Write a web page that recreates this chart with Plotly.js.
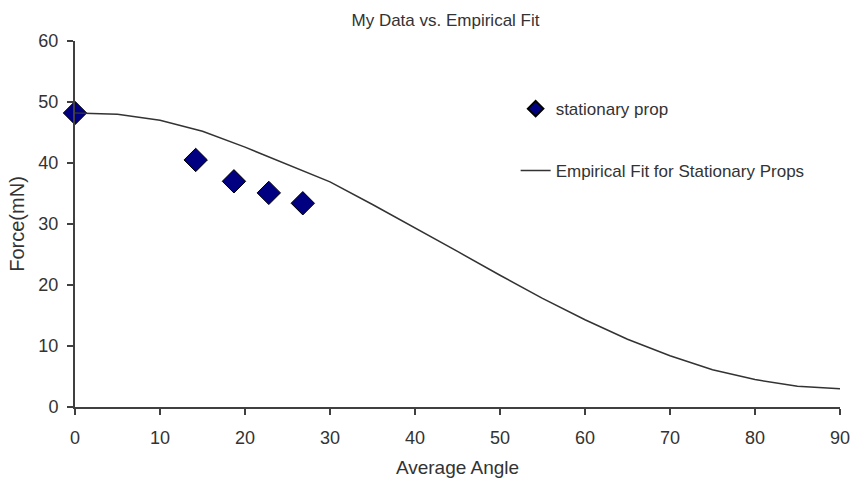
<!DOCTYPE html>
<html>
<head>
<meta charset="utf-8">
<script src="https://cdn.plot.ly/plotly-3.0.1.min.js"></script>
<style>html,body{margin:0;padding:0;background:#fff;}#chart{width:851px;height:486px;}</style>
</head>
<body>
<div id="chart"></div>
<script>
// Measured data points
var dataAngle = [0, 14.2, 18.7, 22.8, 26.8];
var dataForce = [48.2, 40.5, 37.0, 35.1, 33.4];

// Empirical fit curve
var fitAngle = [0, 5, 10, 15, 20, 25, 30, 35, 40, 45, 50, 55, 60, 65, 70, 75, 80, 85, 90];
var fitForce = [48.2, 48.0, 47.0, 45.2, 42.6, 39.8, 36.9, 33.2, 29.4, 25.5, 21.6, 17.8, 14.3, 11.1, 8.4, 6.1, 4.5, 3.4, 3.0];

var xTicks = [0, 10, 20, 30, 40, 50, 60, 70, 80, 90];
var yTicks = [0, 10, 20, 30, 40, 50, 60];

var font = 'Liberation Sans, Arial, sans-serif';
var txt = '#333333';

var traces = [
  {
    x: dataAngle, y: dataForce,
    type: 'scatter', mode: 'markers',
    name: 'stationary prop',
    legend: 'legend',
    cliponaxis: false,
    marker: {symbol: 'diamond', size: 18, color: '#000080', line: {color: '#000000', width: 1}}
  },
  {
    x: fitAngle, y: fitForce,
    type: 'scatter', mode: 'lines',
    name: 'Empirical Fit for Stationary Props',
    legend: 'legend2',
    cliponaxis: false,
    line: {color: '#333333', width: 1.5}
  }
];

var legendFont = {size: 17, color: txt, family: font};

var layout = {
  width: 851, height: 486,
  margin: {l: 75, r: 11, t: 41, b: 79},
  paper_bgcolor: '#ffffff', plot_bgcolor: '#ffffff',
  font: {family: font, color: txt},
  title: {text: 'My Data vs. Empirical Fit', font: {size: 17, color: txt, family: font}, x: 0.5235, xanchor: 'center', y: 0.958, yanchor: 'middle'},
  showlegend: true,
  legend: {
    x: 0.576, y: 0.814, xanchor: 'left', yanchor: 'middle',
    font: legendFont, itemsizing: 'constant', bgcolor: 'rgba(0,0,0,0)'
  },
  legend2: {
    x: 0.576, y: 0.645, xanchor: 'left', yanchor: 'middle',
    font: legendFont, itemsizing: 'trace', bgcolor: 'rgba(0,0,0,0)'
  },
  xaxis: {
    range: [0, 90], tickvals: xTicks, ticktext: xTicks.map(String),
    showgrid: false, zeroline: false,
    showline: true, linecolor: '#404040', linewidth: 2,
    ticks: 'outside', ticklen: 6, tickcolor: '#404040', tickwidth: 1.5,
    ticklabelstandoff: 7,
    tickfont: {size: 18, color: txt, family: font},
    title: {text: 'Average Angle', font: {size: 19, color: txt, family: font}, standoff: 14}
  },
  yaxis: {
    range: [0, 60], tickvals: yTicks, ticktext: yTicks.map(String),
    showgrid: false, zeroline: false,
    showline: true, linecolor: '#404040', linewidth: 2,
    ticks: 'outside', ticklen: 6, tickcolor: '#404040', tickwidth: 1.5,
    ticklabelstandoff: 5,
    tickfont: {size: 18, color: txt, family: font},
    title: {text: 'Force(mN)', font: {size: 20, color: txt, family: font}, standoff: 8}
  }
};

Plotly.newPlot('chart', traces, layout, {displayModeBar: false, staticPlot: true});
</script>
</body>
</html>
